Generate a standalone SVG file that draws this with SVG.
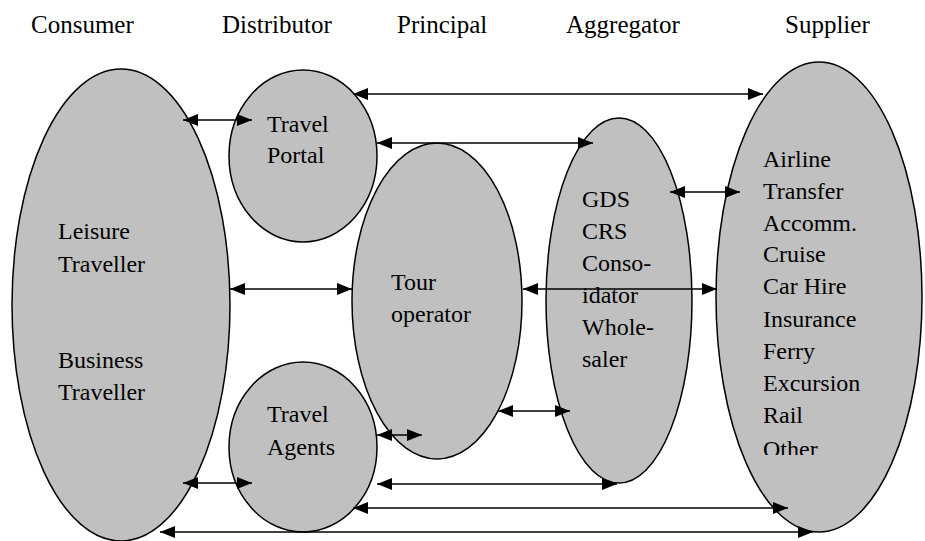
<svg xmlns="http://www.w3.org/2000/svg" width="925" height="541" viewBox="0 0 925 541">
<style>
.node{fill:#c0c0c0;stroke:#000;stroke-width:1.5}
.t{font-family:"Liberation Serif","Times New Roman",serif;font-size:24px;fill:#000}
.h{font-family:"Liberation Serif","Times New Roman",serif;font-size:25px;fill:#000}
.c{stroke:#000;stroke-width:1.6;fill:none;marker-start:url(#ah);marker-end:url(#ah)}
</style>
<defs>
<marker id="ah" markerUnits="userSpaceOnUse" markerWidth="16" markerHeight="12" refX="15" refY="6" orient="auto-start-reverse">
<path d="M0,0 L15,6 L0,12 z" fill="#000"/>
</marker>
<clipPath id="supclip"><rect x="700" y="60" width="225" height="395"/></clipPath>
</defs>
<rect width="925" height="541" fill="#fff"/>
<g id="headers">
<text class="h" x="31" y="33">Consumer</text>
<text class="h" x="222" y="33">Distributor</text>
<text class="h" x="397" y="33">Principal</text>
<text class="h" x="566" y="33">Aggregator</text>
<text class="h" x="785" y="33">Supplier</text>
</g>
<g id="consumer">
<ellipse class="node" cx="121" cy="305" rx="109" ry="236"/>
<text class="t" x="58" y="239">Leisure</text>
<text class="t" x="58" y="272">Traveller</text>
<text class="t" x="58" y="368">Business</text>
<text class="t" x="58" y="400">Traveller</text>
</g>
<g id="travel-portal">
<ellipse class="node" cx="303" cy="156" rx="74" ry="86"/>
<text class="t" x="267" y="132">Travel</text>
<text class="t" x="267" y="163">Portal</text>
</g>
<g id="travel-agents">
<ellipse class="node" cx="303" cy="447" rx="74" ry="85"/>
<text class="t" x="267" y="422">Travel</text>
<text class="t" x="267" y="455">Agents</text>
</g>
<g id="tour-operator">
<ellipse class="node" cx="437" cy="301" rx="85" ry="158"/>
<text class="t" x="391" y="290">Tour</text>
<text class="t" x="391" y="322">operator</text>
</g>
<g id="aggregator">
<ellipse class="node" cx="619" cy="300.5" rx="73" ry="182.5"/>
<text class="t" x="582" y="207">GDS</text>
<text class="t" x="582" y="239">CRS</text>
<text class="t" x="582" y="271">Conso-</text>
<text class="t" x="582" y="303">idator</text>
<text class="t" x="582" y="335">Whole-</text>
<text class="t" x="582" y="367">saler</text>
</g>
<g id="supplier">
<ellipse class="node" cx="819" cy="297" rx="103" ry="235"/>
<g clip-path="url(#supclip)">
<text class="t" x="763" y="167">Airline</text>
<text class="t" x="763" y="199">Transfer</text>
<text class="t" x="763" y="231">Accomm.</text>
<text class="t" x="763" y="262">Cruise</text>
<text class="t" x="763" y="294">Car Hire</text>
<text class="t" x="763" y="327">Insurance</text>
<text class="t" x="763" y="359">Ferry</text>
<text class="t" x="763" y="391">Excursion</text>
<text class="t" x="763" y="423">Rail</text>
<text class="t" x="763" y="457">Other</text>
</g>
</g>
<g id="connectors">
<line class="c" x1="353" y1="94" x2="763" y2="94"/>
<line class="c" x1="377" y1="143" x2="593" y2="143"/>
<line class="c" x1="183" y1="120" x2="252" y2="120"/>
<line class="c" x1="230" y1="289" x2="352" y2="289"/>
<line class="c" x1="523" y1="289" x2="717" y2="289"/>
<line class="c" x1="670" y1="192" x2="740" y2="192"/>
<line class="c" x1="498" y1="411" x2="570" y2="411"/>
<line class="c" x1="377" y1="435" x2="422" y2="435"/>
<line class="c" x1="183" y1="483" x2="252" y2="483"/>
<line class="c" x1="377" y1="484" x2="617" y2="484"/>
<line class="c" x1="353" y1="508" x2="788" y2="508"/>
<line class="c" x1="160" y1="532" x2="813" y2="532"/>
</g>
</svg>
